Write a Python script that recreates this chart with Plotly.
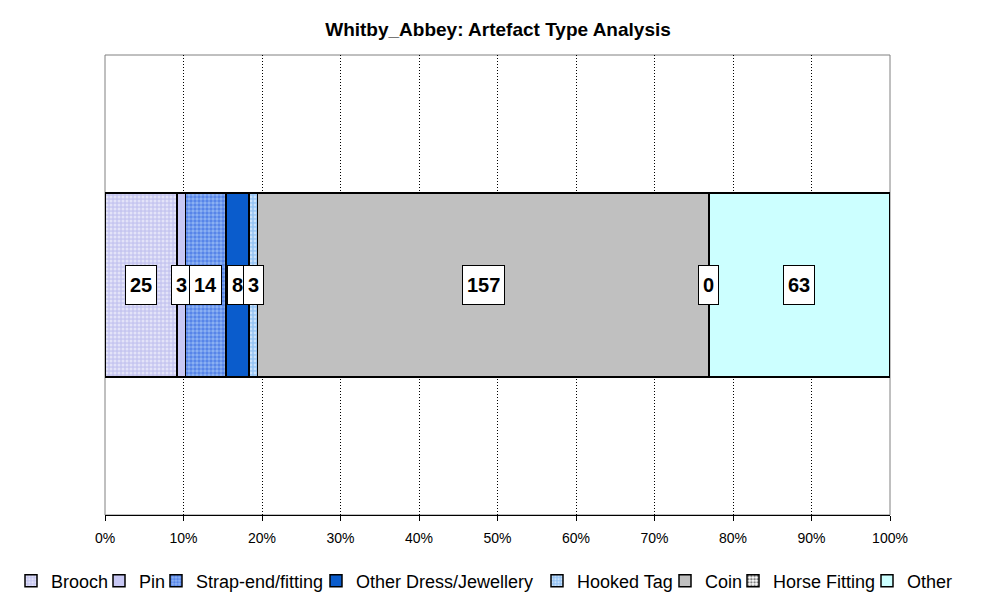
import plotly.graph_objects as go

categories = ["Brooch", "Pin", "Strap-end/fitting", "Other Dress/Jewellery",
              "Hooked Tag", "Coin", "Horse Fitting", "Other"]
counts = [25, 3, 14, 8, 3, 157, 0, 63]
tick_vals = [0, 10, 20, 30, 40, 50, 60, 70, 80, 90, 100]
tick_text = ["0%", "10%", "20%", "30%", "40%", "50%", "60%", "70%", "80%", "90%", "100%"]

styles = {
    "Brooch": dict(color="#d4d4f6", pattern=dict(shape=".", fgcolor="#ffffff", bgcolor="#c6c6f0", size=4, solidity=0.45)),
    "Pin": dict(color="#c8c8f4"),
    "Strap-end/fitting": dict(color="#3a6ee8", pattern=dict(shape=".", fgcolor="#1f55e0", bgcolor="#8fb4f2", size=4, solidity=0.6)),
    "Other Dress/Jewellery": dict(color="#0a5ccc"),
    "Hooked Tag": dict(color="#a6d0f8", pattern=dict(shape=".", fgcolor="#ffffff", bgcolor="#96c4f4", size=4, solidity=0.4)),
    "Coin": dict(color="#c0c0c0"),
    "Horse Fitting": dict(color="#888888", pattern=dict(shape=".", fgcolor="#000000", bgcolor="#ffffff", size=4, solidity=0.5)),
    "Other": dict(color="#ccffff"),
}
# legend layout: which legend box and the entry width of each item
legend_slot = ["legend", "legend", "legend", "legend", "legend2", "legend2", "legend2", "legend2"]
legend_entry_w = [43, 12, 115, 178, 83, 23, 89, 50]

total = sum(counts)
fig = go.Figure()
for name, v, lg, lw in zip(categories, counts, legend_slot, legend_entry_w):
    st = styles[name]
    marker = dict(color=st["color"], line=dict(color="#000000", width=1.5))
    if "pattern" in st:
        marker["pattern"] = st["pattern"]
    fig.add_trace(go.Bar(
        y=["Whitby_Abbey"], x=[v], name=name, orientation="h",
        marker=marker, hoverinfo="name+x", legend=lg, legendwidth=lw,
    ))

annotations = []
cum = 0
for name, v in zip(categories, counts):
    mid = (cum + v / 2) / total * 100
    cum += v
    annotations.append(dict(
        x=mid, y="Whitby_Abbey", xref="x", yref="y", text="<b>%d</b>" % v, showarrow=False,
        font=dict(family="Arial, Liberation Sans", size=20, color="#000000"),
        bgcolor="#ffffff", bordercolor="#000000", borderwidth=1, borderpad=4,
        height=30,
    ))

legend_common = dict(orientation="h", yanchor="middle", xanchor="left", y=-0.1435,
                     font=dict(size=18, color="#000000", family="Arial, Liberation Sans"),
                     traceorder="normal", itemwidth=30, bgcolor="rgba(0,0,0,0)",
                     borderwidth=0)

fig.update_layout(
    barmode="stack", barnorm="percent", bargap=0.6,
    width=977, height=597,
    margin=dict(l=97, r=95, t=47, b=90, autoexpand=False),
    paper_bgcolor="#ffffff", plot_bgcolor="#ffffff",
    title=dict(text="<b>Whitby_Abbey: Artefact Type Analysis</b>", x=(498 - 8) / 977, xanchor="center",
               y=1 - (29 - 8) / 597, yanchor="middle",
               font=dict(family="Arial, Liberation Sans", size=19, color="#000000")),
    font=dict(family="Arial, Liberation Sans", color="#000000"),
    legend=dict(x=(3 - 97) / 785, **legend_common),
    legend2=dict(x=(537 - 105) / 785, **legend_common),
    annotations=annotations,
    showlegend=True,
)
fig.update_xaxes(range=[0, 100], tickvals=tick_vals, ticktext=tick_text,
                 showgrid=True, gridcolor="#000000", griddash="1px,2px", gridwidth=1,
                 showline=True, linecolor="#000000", linewidth=1,
                 ticks="outside", ticklen=5, tickcolor="#000000",
                 ticklabelstandoff=5,
                 tickfont=dict(size=14, color="#000000"), zeroline=False)
fig.update_yaxes(showticklabels=False, showgrid=False, zeroline=False,
                 showline=False)
fig.add_shape(type="rect", xref="paper", yref="paper", x0=0, x1=1, y0=0, y1=1,
              line=dict(color="#808080", width=1), layer="below")

fig.write_html("out.html")
